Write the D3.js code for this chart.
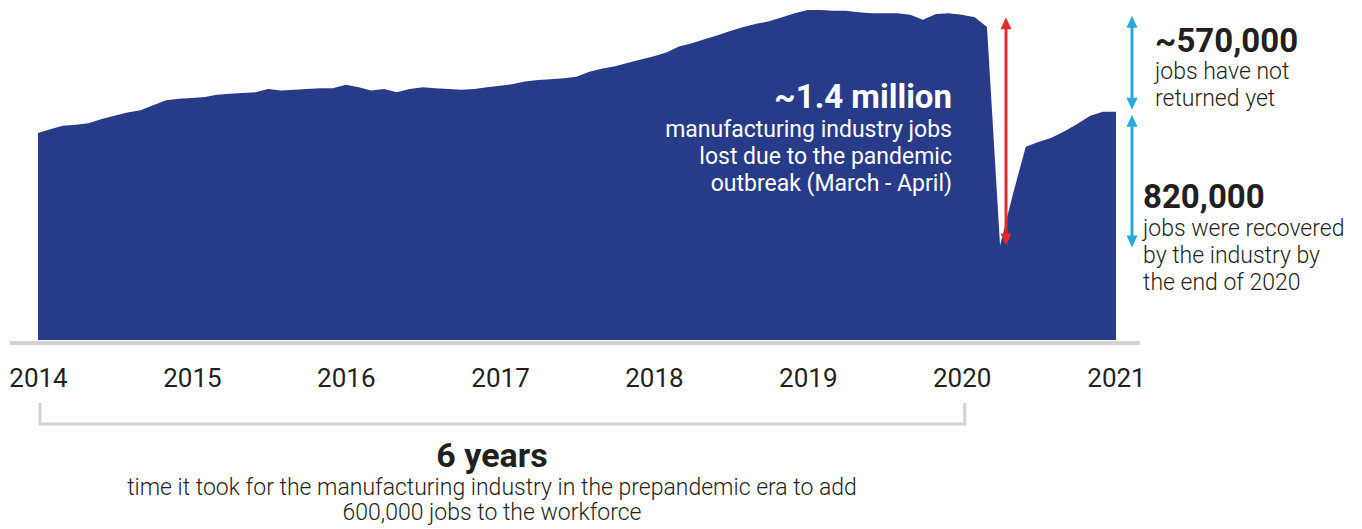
<!DOCTYPE html>
<html>
<head>
<meta charset="utf-8">
<script src="https://cdn.jsdelivr.net/npm/d3@7"></script>
<style>
  html, body { margin: 0; padding: 0; background: #ffffff; }
  svg { display: block; font-family: Roboto, "Open Sans", sans-serif; }
</style>
</head>
<body>
<svg id="chart" width="1362" height="529"></svg>
<script>
// US manufacturing employment, thousands of jobs, monthly (Jan..Dec)
const jobs2014 = [12150, 12175, 12195, 12200, 12210, 12235, 12255, 12275, 12290, 12320, 12350, 12360];
const jobs2015 = [12365, 12370, 12385, 12390, 12395, 12400, 12420, 12410, 12415, 12420, 12425, 12425];
const jobs2016 = [12445, 12430, 12410, 12420, 12400, 12420, 12430, 12425, 12420, 12415, 12420, 12430];
const jobs2017 = [12440, 12450, 12465, 12475, 12480, 12485, 12495, 12525, 12545, 12560, 12580, 12600];
const jobs2018 = [12620, 12645, 12680, 12700, 12725, 12750, 12775, 12800, 12820, 12835, 12860, 12885];
const jobs2019 = [12905, 12905, 12900, 12900, 12890, 12885, 12885, 12885, 12875, 12845, 12880, 12885];
const jobs2020 = [12875, 12860, 12800, 11460, 11770, 12065, 12095, 12120, 12160, 12205, 12255, 12280];
const jobs2021 = [12280];

const yearTicks = ["2014", "2015", "2016", "2017", "2018", "2019", "2020", "2021"];

// Annotated changes, thousands of jobs
const lostJobs = 1400;
const recoveredJobs = 820;
const notReturnedJobs = 570;

const seriesByYear = [jobs2014, jobs2015, jobs2016, jobs2017, jobs2018, jobs2019, jobs2020, jobs2021];
const series = [];
seriesByYear.forEach((vals, i) => {
  const year = +yearTicks[i];
  vals.forEach((v, m) => series.push({ date: new Date(year, m, 1), value: v }));
});

const svg = d3.select("#chart");
const areaColor = "#283b89";
const grey = "#d1d3d4";
const ink = "#231f20";

const x = d3.scaleTime()
  .domain([new Date(2014, 0, 1), new Date(2021, 0, 1)])
  .range([38, 1116]);
const y = d3.scaleLinear()
  .domain([10880, 12900])
  .range([340, 10.7]);

// employment area
const area = d3.area()
  .x(d => x(d.date))
  .y0(y.range()[0])
  .y1(d => y(d.value))
  .curve(d3.curveLinear);

svg.append("path")
  .datum(series)
  .attr("d", area)
  .attr("fill", areaColor);

// baseline rule
svg.append("line")
  .attr("x1", 10).attr("x2", 1140)
  .attr("y1", 343).attr("y2", 343)
  .attr("stroke", grey).attr("stroke-width", 4);

// year labels
const axis = d3.axisBottom(x)
  .tickValues(yearTicks.map(t => new Date(+t, 0, 1)))
  .tickFormat((d, i) => yearTicks[i])
  .tickSize(0)
  .tickPadding(0);
const gAxis = svg.append("g")
  .attr("transform", "translate(0,369)")
  .call(axis);
gAxis.select(".domain").remove();
gAxis.selectAll("text")
  .attr("font-family", "Roboto")
  .attr("font-size", 26)
  .attr("fill", ink)
  .attr("dy", "0.71em");

// bracket under 2014..2020
const bx0 = x(new Date(2014, 0, 1)) + 2, bx1 = x(new Date(2020, 0, 1)) + 3;
svg.append("path")
  .attr("d", `M${bx0},403 V424 H${bx1} V403`)
  .attr("fill", "none")
  .attr("stroke", grey)
  .attr("stroke-width", 3);

// double-headed vertical arrow
function arrow(xPos, yTop, yBottom, color) {
  const head = 12, half = 5.5;
  svg.append("line")
    .attr("x1", xPos).attr("x2", xPos)
    .attr("y1", yTop + head - 1).attr("y2", yBottom - head + 1)
    .attr("stroke", color).attr("stroke-width", 3);
  svg.append("path")
    .attr("d", `M${xPos},${yTop} L${xPos + half},${yTop + head} L${xPos - half},${yTop + head} Z`)
    .attr("fill", color);
  svg.append("path")
    .attr("d", `M${xPos},${yBottom} L${xPos + half},${yBottom - head} L${xPos - half},${yBottom - head} Z`)
    .attr("fill", color);
}

const trough = d3.min(series, d => d.value);
arrow(1006, y(trough + lostJobs), y(trough), "#e52a2a");
const blueX = x(new Date(2021, 0, 1)) + 16;
arrow(blueX, y(trough + recoveredJobs) + 3, y(trough) + 2, "#29a8e0");
arrow(blueX, y(trough + recoveredJobs + notReturnedJobs) - 3, y(trough + recoveredJobs) - 2, "#29a8e0");

// text blocks
function block(xPos, yPos, anchor, lines, opts) {
  const t = svg.append("text")
    .attr("text-anchor", anchor)
    .attr("fill", opts.color);
  lines.forEach((ln, i) => {
    t.append("tspan")
      .attr("x", xPos)
      .attr("y", yPos + (i === 0 ? 0 : opts.firstGap + (i - 1) * opts.lineGap))
      .attr("font-size", i === 0 ? opts.headSize : opts.bodySize)
      .attr("font-weight", i === 0 ? 700 : opts.bodyWeight)
      .text(ln);
  });
}

block(952, 108, "end",
  ["~1.4 million", "manufacturing industry jobs", "lost due to the pandemic", "outbreak (March - April)"],
  { color: "#ffffff", headSize: 33, bodySize: 23, bodyWeight: 400, firstGap: 29, lineGap: 27 });

block(1155, 52, "start",
  ["~570,000", "jobs have not", "returned yet"],
  { color: ink, headSize: 33, bodySize: 23, bodyWeight: 300, firstGap: 27, lineGap: 27 });

block(1143, 208, "start",
  ["820,000", "jobs were recovered", "by the industry by", "the end of 2020"],
  { color: ink, headSize: 33, bodySize: 23, bodyWeight: 300, firstGap: 28, lineGap: 27 });

block(492, 467, "middle",
  ["6 years", "time it took for the manufacturing industry in the prepandemic era to add", "600,000 jobs to the workforce"],
  { color: ink, headSize: 34, bodySize: 23, bodyWeight: 300, firstGap: 28, lineGap: 25 });
</script>
</body>
</html>
